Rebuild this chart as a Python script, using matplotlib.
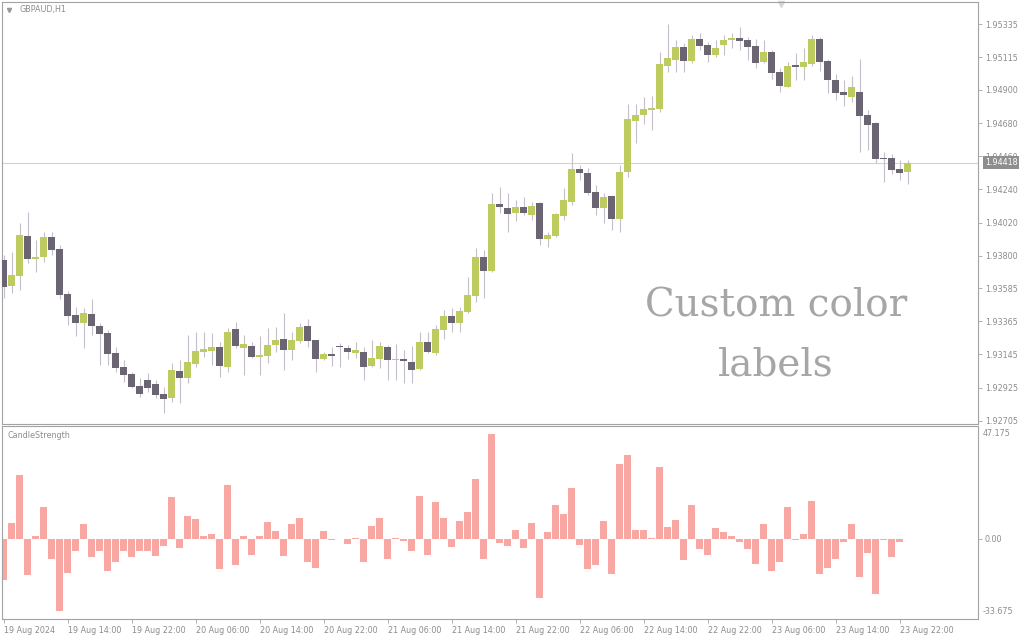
import matplotlib
matplotlib.use("Agg")
import matplotlib.pyplot as plt
import numpy as np

# ---------------- data ----------------
opens = [1.93771, 1.93599, 1.93665, 1.93930, 1.93778, 1.93791, 1.93924, 1.93844, 1.93546, 1.93406,
         1.93353, 1.93413, 1.93333, 1.93287, 1.93154, 1.93061, 1.93015, 1.92935, 1.92975, 1.92948,
         1.92882, 1.92856, 1.93035, 1.92988, 1.93081, 1.93161, 1.93167, 1.93194, 1.93061, 1.93313,
         1.93187, 1.93201, 1.93128, 1.93134, 1.93207, 1.93247, 1.93174, 1.93234, 1.93333, 1.93240,
         1.93114, 1.93147, 1.93201, 1.93187, 1.93154, 1.93161, 1.93068, 1.93114, 1.93194, 1.93108,
         1.93114, 1.93094, 1.93048, 1.93227, 1.93154, 1.93307, 1.93400, 1.93353, 1.93426, 1.93532,
         1.93791, 1.93698, 1.94143, 1.94116, 1.94083, 1.94123, 1.94070, 1.94149, 1.93910, 1.93930,
         1.94063, 1.94156, 1.94375, 1.94348, 1.94222, 1.94116, 1.94196, 1.94043, 1.94355, 1.94693,
         1.94733, 1.94766, 1.94773, 1.95058, 1.95098, 1.95184, 1.95091, 1.95237, 1.95198, 1.95131,
         1.95198, 1.95231, 1.95244, 1.95231, 1.95191, 1.95085, 1.95151, 1.95019, 1.94919, 1.95065,
         1.95052, 1.95072, 1.95237, 1.95091, 1.94965, 1.94886, 1.94853, 1.94886, 1.94733, 1.94680,
         1.94448, 1.94448, 1.94375, 1.94355]
highs = [1.93804, 1.93824, 1.94017, 1.94090, 1.93904, 1.93957, 1.93957, 1.93871, 1.93565, 1.93459,
         1.93453, 1.93512, 1.93353, 1.93307, 1.93194, 1.93108, 1.93028, 1.92988, 1.93021, 1.92975,
         1.92928, 1.93088, 1.93108, 1.93274, 1.93293, 1.93293, 1.93287, 1.93227, 1.93320, 1.93360,
         1.93274, 1.93227, 1.93267, 1.93320, 1.93327, 1.93419, 1.93293, 1.93353, 1.93380, 1.93240,
         1.93161, 1.93194, 1.93220, 1.93207, 1.93227, 1.93194, 1.93240, 1.93227, 1.93207, 1.93214,
         1.93174, 1.93201, 1.93293, 1.93293, 1.93340, 1.93439, 1.93453, 1.93459, 1.93658, 1.93851,
         1.93837, 1.94216, 1.94255, 1.94216, 1.94169, 1.94189, 1.94156, 1.94156, 1.93957, 1.94083,
         1.94249, 1.94481, 1.94401, 1.94382, 1.94269, 1.94216, 1.94202, 1.94401, 1.94806, 1.94806,
         1.94853, 1.94859, 1.95151, 1.95337, 1.95231, 1.95211, 1.95264, 1.95277, 1.95218, 1.95231,
         1.95264, 1.95277, 1.95317, 1.95251, 1.95237, 1.95231, 1.95164, 1.95045, 1.95085, 1.95145,
         1.95178, 1.95264, 1.95251, 1.95105, 1.95005, 1.94965, 1.94992, 1.95105, 1.94766, 1.94687,
         1.94488, 1.94474, 1.94435, 1.94435]
lows = [1.93519, 1.93552, 1.93572, 1.93751, 1.93692, 1.93758, 1.93804, 1.93512, 1.93340, 1.93267,
        1.93187, 1.93274, 1.93074, 1.93074, 1.93028, 1.92962, 1.92922, 1.92862, 1.92895, 1.92856,
        1.92756, 1.92829, 1.92822, 1.92955, 1.93061, 1.93128, 1.93074, 1.92995, 1.93028, 1.93187,
        1.93008, 1.93121, 1.93008, 1.93088, 1.93161, 1.93041, 1.93108, 1.93220, 1.93194, 1.93028,
        1.93108, 1.93068, 1.93061, 1.93114, 1.93121, 1.92975, 1.93061, 1.93055, 1.92975, 1.92975,
        1.92955, 1.92955, 1.93041, 1.93154, 1.93141, 1.93247, 1.93293, 1.93293, 1.93419, 1.93492,
        1.93519, 1.93692, 1.94083, 1.93957, 1.94030, 1.94070, 1.94037, 1.93871, 1.93857, 1.93924,
        1.94037, 1.94136, 1.94302, 1.94202, 1.94070, 1.94017, 1.93970, 1.93957, 1.94322, 1.94547,
        1.94673, 1.94634, 1.94753, 1.95019, 1.95019, 1.95019, 1.95078, 1.95164, 1.95085, 1.95118,
        1.95131, 1.95178, 1.95164, 1.95098, 1.95045, 1.95078, 1.94972, 1.94886, 1.94919, 1.94965,
        1.94965, 1.95058, 1.95025, 1.94879, 1.94833, 1.94793, 1.94819, 1.94488, 1.94501, 1.94415,
        1.94289, 1.94342, 1.94302, 1.94275]
closes = [1.93592, 1.93672, 1.93937, 1.93778, 1.93791, 1.93924, 1.93837, 1.93539, 1.93400, 1.93353,
          1.93419, 1.93333, 1.93280, 1.93147, 1.93055, 1.93008, 1.92928, 1.92882, 1.92922, 1.92875,
          1.92849, 1.93041, 1.92988, 1.93094, 1.93167, 1.93181, 1.93194, 1.93068, 1.93293, 1.93201,
          1.93214, 1.93128, 1.93141, 1.93207, 1.93240, 1.93174, 1.93240, 1.93327, 1.93234, 1.93114,
          1.93147, 1.93134, 1.93194, 1.93161, 1.93174, 1.93061, 1.93121, 1.93201, 1.93108, 1.93114,
          1.93101, 1.93041, 1.93227, 1.93161, 1.93313, 1.93400, 1.93353, 1.93433, 1.93539, 1.93791,
          1.93698, 1.94143, 1.94123, 1.94076, 1.94123, 1.94083, 1.94129, 1.93910, 1.93937, 1.94076,
          1.94169, 1.94375, 1.94348, 1.94216, 1.94116, 1.94189, 1.94043, 1.94355, 1.94707, 1.94733,
          1.94773, 1.94780, 1.95072, 1.95111, 1.95184, 1.95091, 1.95237, 1.95191, 1.95131, 1.95178,
          1.95231, 1.95244, 1.95224, 1.95184, 1.95078, 1.95151, 1.95012, 1.94926, 1.95058, 1.95052,
          1.95085, 1.95237, 1.95085, 1.94965, 1.94879, 1.94866, 1.94919, 1.94727, 1.94667, 1.94441,
          1.94441, 1.94368, 1.94348, 1.94418]

strength = [-17.4, 6.4, 26.8, -15.3, 1.0, 13.3, -8.4, -30.5, -14.3, -5.1,
            6.0, -7.9, -5.1, -13.6, -9.6, -5.1, -7.9, -5.1, -5.1, -7.2,
            -3.0, 17.6, -4.1, 9.4, 8.2, 0.9, 2.1, -12.6, 22.5, -11.1,
            1.3, -6.7, 0.9, 6.8, 3.0, -7.2, 6.0, 8.5, -9.6, -12.2,
            3.0, -0.6, -0.3, -2.4, 0.4, -9.6, 5.1, 8.5, -8.4, 0.4,
            -1.1, -5.1, 17.9, -6.7, 15.3, 8.5, -3.7, 7.2, 11.1, 25.1,
            -8.4, 43.8, -2.0, -3.3, 3.8, -4.1, 6.4, -25.0, 2.6, 14.0,
            10.2, 21.3, -2.8, -12.6, -10.9, 7.2, -14.7, 31.1, 34.9, 3.4,
            3.8, 0.4, 29.8, 4.7, 7.7, -8.8, 14.0, -4.5, -6.7, 4.3,
            2.6, 1.3, -1.6, -4.5, -10.5, 6.0, -13.5, -9.6, 13.2, -0.7,
            2.1, 15.7, -14.7, -12.2, -8.4, -1.6, 6.0, -16.0, -6.2, -23.3,
            -0.4, -7.5, -1.4, 0.0]

price_ticks = ["1.95335", "1.95115", "1.94900", "1.94680", "1.94460", "1.94240", "1.94020",
               "1.93800", "1.93585", "1.93365", "1.93145", "1.92925", "1.92705"]
time_labels = ["19 Aug 2024", "19 Aug 14:00", "19 Aug 22:00", "20 Aug 06:00", "20 Aug 14:00",
               "20 Aug 22:00", "21 Aug 06:00", "21 Aug 14:00", "21 Aug 22:00", "22 Aug 06:00",
               "22 Aug 14:00", "22 Aug 22:00", "23 Aug 06:00", "23 Aug 14:00", "23 Aug 22:00"]
bars_per_label = 8
last_price = 1.94418
strength_max = 47.175
strength_min = -33.675
symbol_title = "GBPAUD,H1"
indicator_title = "CandleStrength"
watermark_lines = ["Custom color", "labels"]

# ---------------- style ----------------
W, H = 1024, 640
BULL = "#bdcb5f"
BEAR = "#6b6472"
WICK = "#c3bfcb"
PINK = "#f8a7a3"
FRAME = "#a3a3a3"
TXT = "#8c8c8c"
FS = 5.8

fig = plt.figure(figsize=(W / 100, H / 100), dpi=100)
fig.patch.set_facecolor("white")


def rect(x0, y0, x1, y1):
    return [x0 / W, 1 - y1 / H, (x1 - x0) / W, (y1 - y0) / H]


ax = fig.add_axes(rect(2, 2, 978, 424))
ax2 = fig.add_axes(rect(2, 426, 978, 619))

n = len(opens)
x = np.arange(n)
o = np.array(opens); c = np.array(closes); h = np.array(highs); l = np.array(lows)
bull = c >= o
colors = np.where(bull, BULL, BEAR)
xmin = -0.1875
xmax = xmin + 976 / 8

# wicks
ax.vlines(x, l, h, colors=WICK, linewidth=0.8, zorder=2)
# bodies
body_lo = np.minimum(o, c)
body_h = np.maximum(np.abs(c - o), 0.00003)
ax.bar(x, body_h, bottom=body_lo, width=0.86, color=colors, linewidth=0, zorder=3)

# last price line
ax.axhline(last_price, color="#d2d2d2", linewidth=0.8, zorder=1)

ax.set_xlim(xmin, xmax)
ptick_vals = [float(t) for t in price_ticks]
step = (ptick_vals[0] - ptick_vals[-1]) / (len(ptick_vals) - 1)
ax.set_ylim(ptick_vals[-1] - step * 3.3 / 33.0, ptick_vals[0] + step * 22.3 / 33.0)
ax.set_xticks([])
ax.yaxis.tick_right()
ax.set_yticks(ptick_vals)
ax.set_yticklabels(price_ticks)
ax.tick_params(axis="y", length=3, width=0.6, color=FRAME, labelsize=FS, labelcolor=TXT, pad=2)
for s in ax.spines.values():
    s.set_color(FRAME)
    s.set_linewidth(0.8)

# last price tag
ax.annotate(f"{last_price:.5f}", xy=(1.0, last_price), xycoords=("axes fraction", "data"),
            xytext=(5, 0), textcoords="offset points", ha="left", va="center",
            fontsize=FS, color="white", zorder=10, annotation_clip=False,
            bbox=dict(boxstyle="square,pad=0.2", fc="#8e8e8e", ec="none"))

# titles
ax.text(0.0175, 0.982, symbol_title, transform=ax.transAxes, fontsize=FS, color=TXT,
        ha="left", va="center")
ax.plot([0.0072], [0.982], marker="v", markersize=3, color="#9a9a9a", transform=ax.transAxes,
        clip_on=False)
ax.plot([0.798], [0.995], marker="v", markersize=5, color="#d6d6d6", transform=ax.transAxes,
        clip_on=False)

# watermark
ax.text(0.793, 0.2536, watermark_lines[0], transform=ax.transAxes, fontsize=28, color="#a6a6a6",
        ha="center", va="baseline", family="DejaVu Serif")
ax.text(0.793, 0.1161, watermark_lines[1], transform=ax.transAxes, fontsize=28, color="#a6a6a6",
        ha="center", va="baseline", family="DejaVu Serif")

# ---------------- indicator panel ----------------
ax2.bar(x, strength, width=0.86, color=PINK, linewidth=0, zorder=2)
ax2.set_xlim(xmin, xmax)
ax2.set_ylim(strength_min, strength_max)
ax2.yaxis.tick_right()
ax2.set_yticks([0.0])
ax2.set_yticklabels(["0.00"])
ax2.tick_params(axis="y", length=3, width=0.6, color=FRAME, labelsize=FS, labelcolor=TXT, pad=2)
ax2.text(1.005, 0.96, f"{strength_max:.3f}", transform=ax2.transAxes, fontsize=FS, color=TXT,
         ha="left", va="center")
ax2.text(1.005, 0.04, f"{strength_min:.3f}", transform=ax2.transAxes, fontsize=FS, color=TXT,
         ha="left", va="center")
ax2.text(0.006, 0.95, indicator_title, transform=ax2.transAxes, fontsize=FS, color=TXT,
         ha="left", va="center")

tick_pos = [i * bars_per_label for i in range(len(time_labels))]
ax2.set_xticks(tick_pos)
ax2.set_xticklabels(time_labels, ha="left")
ax2.tick_params(axis="x", length=3, width=0.6, color=FRAME, labelsize=FS, labelcolor=TXT, pad=2)
for s in ax2.spines.values():
    s.set_color(FRAME)
    s.set_linewidth(0.8)

fig.savefig("out.png", dpi=100, facecolor="white")
